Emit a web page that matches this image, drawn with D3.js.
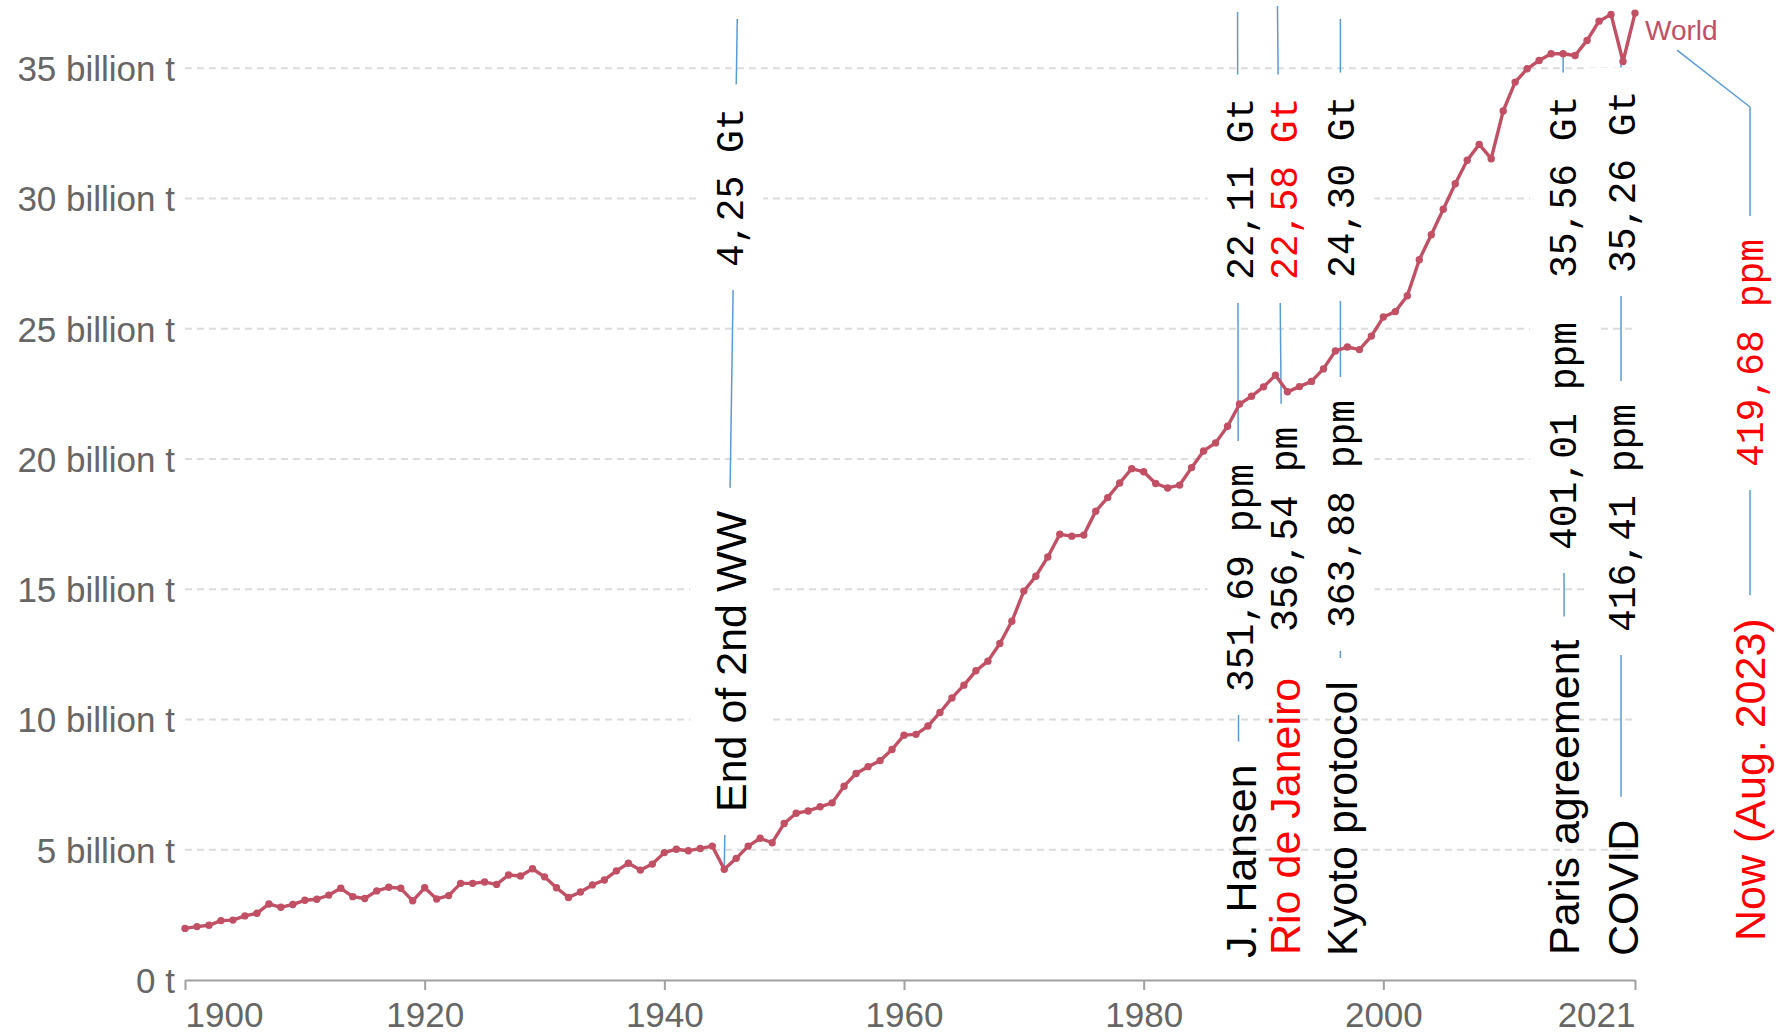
<!DOCTYPE html>
<html>
<head>
<meta charset="utf-8">
<script src="https://cdn.jsdelivr.net/npm/d3@7"></script>
<style>
  body { margin: 0; background: #fff; }
  svg { display: block; }
</style>
</head>
<body>
<svg width="1780" height="1033"></svg>
<script>
'use strict'

// annual CO2 emissions of the world, billion tonnes, from 1900 on
const firstYear = 1900
const emissions = [
  1.98, 2.05, 2.10, 2.28, 2.30, 2.46, 2.56, 2.92, 2.79, 2.90, // 1900
  3.06, 3.10, 3.26, 3.52, 3.20, 3.13, 3.42, 3.56, 3.52, 3.04, // 1910
  3.54, 3.11, 3.24, 3.71, 3.71, 3.76, 3.67, 4.03, 3.99, 4.27, // 1920
  3.96, 3.54, 3.17, 3.38, 3.65, 3.84, 4.19, 4.48, 4.22, 4.45, // 1930
  4.89, 5.02, 4.96, 5.05, 5.14, 4.25, 4.67, 5.14, 5.44, 5.27, // 1940
  6.01, 6.40, 6.49, 6.65, 6.80, 7.44, 7.93, 8.19, 8.42, 8.85, // 1950
  9.40, 9.43, 9.75, 10.27, 10.83, 11.32, 11.87, 12.24, 12.92, 13.77, // 1960
  14.93, 15.50, 16.24, 17.11, 17.04, 17.08, 18.00, 18.52, 19.08, 19.63, // 1970
  19.51, 19.06, 18.89, 19.00, 19.67, 20.31, 20.62, 21.26, 22.11, 22.41, // 1980
  22.77, 23.22, 22.58, 22.78, 22.98, 23.46, 24.15, 24.30, 24.20, 24.72, // 1990
  25.45, 25.66, 26.27, 27.65, 28.61, 29.59, 30.57, 31.47, 32.08, 31.53, // 2000
  33.36, 34.47, 34.98, 35.30, 35.56, 35.56, 35.49, 36.07, 36.81, 37.07, // 2010
  35.26, 37.12 // 2020
]
const seriesName = 'World'

const yTicks = [0, 5, 10, 15, 20, 25, 30, 35]
const xTicks = [1900, 1920, 1940, 1960, 1980, 2000, 2021]

const eventNames = ['End of 2nd WW', 'J. Hansen', 'Rio de Janeiro', 'Kyoto protocol', 'Paris agreement', 'COVID', 'Now (Aug. 2023)']
const eventYears = [1945, 1988, 1992, 1997, 2015, 2020, 2023]
const eventGt = ['4,25 Gt', '22,11 Gt', '22,58 Gt', '24,30 Gt', '35,56 Gt', '35,26 Gt', null]
const eventPpm = [null, '351,69 ppm', '356,54 pm', '363,88 ppm', '401,01 ppm', '416,41 ppm', '419,68 ppm']

// hand placed annotation columns (pixels)
const layout = [
  { lineDx: [13, 0], textDx: 6, top: 19, gt: 267, label: 812, toData: true, box: true },
  { lineDx: [-2, -1], textDx: 1, top: 12, gt: 280, ppm: 692, label: 958 },
  { lineDx: [-10, -4], textDx: -3, top: 6, gt: 280, ppm: 632, label: 955, red: ['gt', 'label'] },
  { lineDx: [-7, -7], textDx: -6, top: 19, gt: 278, ppm: 628, label: 956 },
  { lineDx: [0, 1], textDx: 0, top: 'data', gt: 278, ppm: 550, label: 955 },
  { lineDx: [-2, -2], textDx: -1, top: 'data', gt: 273, ppm: 632, label: 956 },
  { lineDx: [115, 115], textDx: 115, top: 'leader', knee: 107, ppm: 467, label: 941, red: ['ppm', 'label'] }
]

const sans = '"Liberation Sans", Arial, sans-serif'
const mono = '"Courier New", "Liberation Mono", monospace'
const lineColor = '#c15065'
const blue = '#5b9bd5'
const pad = 23

const years = emissions.map((d, i) => firstYear + i)
const lastYear = years[years.length - 1]
const data = years.map((yr, i) => ({ year: yr, value: emissions[i] }))

const x = d3.scaleLinear().domain([firstYear, lastYear]).range([185, 1635])
const y = d3.scaleLinear().domain([0, 35]).range([980, 68.3])

const svg = d3.select('svg')
const gGrid = svg.append('g')
const gLines = svg.append('g')
const gBoxes = svg.append('g')
const gTexts = svg.append('g')
const gData = svg.append('g')
const gAxis = svg.append('g')

// dashed grid
gGrid.selectAll('line.grid').data(yTicks.filter((d) => d > 0))
  .enter()
  .append('line')
  .classed('grid', true)
  .attr('x1', x.range()[0])
  .attr('x2', x.range()[1])
  .attr('y1', (d) => y(d))
  .attr('y2', (d) => y(d))
  .style('stroke', '#dcdcdc')
  .style('stroke-width', 2)
  .style('stroke-dasharray', '7,5')

// y labels
const yAxis = gGrid.append('g')
  .attr('transform', `translate(${x.range()[0]},0)`)
  .call(d3.axisLeft(y).tickValues(yTicks).tickSize(0).tickPadding(10)
    .tickFormat((d) => (d === 0 ? '0 t' : `${d} billion t`)))
yAxis.select('.domain').remove()
yAxis.selectAll('text')
  .style('font-family', sans)
  .style('font-size', '35px')
  .style('fill', '#666')
  .attr('dy', '0.35em')

const valueAt = (yr) => emissions[yr - firstYear]

// World label and its leader to the "Now" column
const last = data[data.length - 1]
const worldX = x(last.year) + 10
const worldY = y(last.value) + 27
svg.append('text')
  .attr('x', worldX)
  .attr('y', worldY)
  .text(seriesName)
  .style('font-family', sans)
  .style('font-size', '28px')
  .style('fill', lineColor)

function rotText(cx, startY, str, font, size, color, dy) {
  const t = gTexts.append('text')
    .attr('transform', `translate(${cx},${startY}) rotate(-90)`)
    .attr('dy', dy)
    .text(str)
    .style('font-family', font)
    .style('font-size', `${size}px`)
    .style('fill', color)
  const len = t.node().getComputedTextLength()
  return startY - len
}

function knockout(cx, half, top, bottom) {
  gBoxes.append('rect')
    .attr('x', cx - half)
    .attr('y', top - pad)
    .attr('width', half * 2)
    .attr('height', bottom - top + pad * 2)
    .style('fill', '#fff')
}

eventNames.forEach((name, i) => {
  const L = layout[i]
  const red = L.red || []
  const baseX = x(Math.min(eventYears[i], lastYear))
  const cx = baseX + L.textDx

  if (eventGt[i]) {
    const top = rotText(cx, L.gt, eventGt[i], mono, 38, red.includes('gt') ? '#f00' : '#000', '0.33em')
    knockout(cx, 33, top, L.gt)
  }
  if (eventPpm[i]) {
    const top = rotText(cx, L.ppm, eventPpm[i], mono, 38, red.includes('ppm') ? '#f00' : '#000', '0.33em')
    knockout(cx, 33, top, L.ppm)
  }
  const labelTop = rotText(cx, L.label, name, sans, 43, red.includes('label') ? '#f00' : '#000', '0.36em')
  if (L.box) knockout(cx, 40, labelTop, L.label)

  let y1 = L.top
  if (L.top === 'data') y1 = y(valueAt(eventYears[i]))
  if (L.top === 'leader') {
    y1 = L.knee
    gLines.append('line')
      .attr('x1', worldX + 32)
      .attr('y1', worldY + 10)
      .attr('x2', baseX + L.lineDx[0])
      .attr('y2', y1)
      .style('stroke', blue)
      .style('stroke-width', 1.5)
  }
  const y2 = L.toData ? y(valueAt(eventYears[i])) : labelTop - pad
  gLines.append('line')
    .attr('x1', baseX + L.lineDx[0])
    .attr('y1', y1)
    .attr('x2', baseX + L.lineDx[1])
    .attr('y2', y2)
    .style('stroke', blue)
    .style('stroke-width', 1.5)
})

// the series
const line = d3.line().x((d) => x(d.year)).y((d) => y(d.value))
gData.append('path')
  .datum(data)
  .attr('d', line)
  .style('fill', 'none')
  .style('stroke', lineColor)
  .style('stroke-width', 3.4)
  .style('stroke-linejoin', 'round')

gData.selectAll('circle.point').data(data)
  .enter()
  .append('circle')
  .classed('point', true)
  .attr('cx', (d) => x(d.year))
  .attr('cy', (d) => y(d.value))
  .attr('r', 3.7)
  .style('fill', lineColor)

// x axis
const xAxis = gAxis.append('g')
  .attr('transform', `translate(0,${y(0)})`)
  .call(d3.axisBottom(x).tickValues(xTicks).tickFormat(d3.format('d'))
    .tickSize(10).tickSizeOuter(0).tickPadding(12))
xAxis.select('.domain').style('stroke', '#a0a0a0').style('stroke-width', 2)
xAxis.selectAll('.tick line').style('stroke', '#a0a0a0').style('stroke-width', 2)
xAxis.selectAll('text')
  .style('font-family', sans)
  .style('font-size', '35px')
  .style('fill', '#666')
  .attr('text-anchor', (d, i) => (i === 0 ? 'start' : i === xTicks.length - 1 ? 'end' : 'middle'))
</script>
</body>
</html>
